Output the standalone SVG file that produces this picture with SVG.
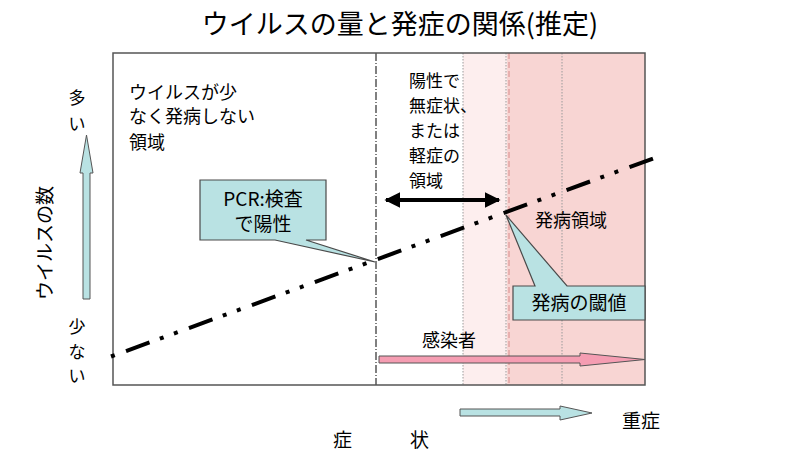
<svg xmlns="http://www.w3.org/2000/svg" width="800" height="455" viewBox="0 0 800 455">
<defs>
<style>
text{font-family:"Noto Sans CJK JP","Liberation Sans",sans-serif;fill:#000;}
.t{font-size:18px;}
.m{font-size:17px;}
.call{fill:#b9e2e3;stroke:#4a4a4a;stroke-width:1.2;}
.gline{stroke:#9a9a9a;stroke-width:1;stroke-dasharray:1.5 1.5;fill:none;}
</style>
<marker id="ah" viewBox="0 0 10 10" refX="9" refY="5" markerWidth="4" markerHeight="4" orient="auto-start-reverse" markerUnits="strokeWidth">
<path d="M0,0 L10,5 L0,10 z" fill="#000"/>
</marker>
</defs>
<rect width="800" height="455" fill="#fff"/>
<text x="400" y="34" text-anchor="middle" style="font-size:27px">ウイルスの量と発症の関係(推定)</text>

<g id="regions">
<rect x="463" y="53" width="44" height="332" fill="#fdeeee"/>
<rect x="507" y="53" width="138" height="332" fill="#f8d5d3"/>
<line x1="463" y1="53" x2="463" y2="385" class="gline"/>
<line x1="506" y1="53" x2="506" y2="385" class="gline"/>
<line x1="562" y1="53" x2="562" y2="385" class="gline"/>
<line x1="509" y1="53" x2="509" y2="385" stroke="#d88a8a" stroke-width="1" stroke-dasharray="6 3"/>
<line x1="376" y1="53" x2="376" y2="385" stroke="#808080" stroke-width="2" stroke-dasharray="8 2 1 2"/>
<rect x="113" y="53" width="532" height="332" fill="none" stroke="#555" stroke-width="1.5"/>
</g>

<g id="connectors">
<line x1="111" y1="356.5" x2="653" y2="158.5" stroke="#000" stroke-width="4" stroke-dasharray="4 12 25 11 4 11"/>
<line x1="386" y1="200" x2="499" y2="200" stroke="#000" stroke-width="4" marker-start="url(#ah)" marker-end="url(#ah)"/>
</g>

<g id="axis-y">
<path d="M83,299 L83,173 L80,173 L86.5,135 L93,173 L90,173 L90,299 Z" fill="#b9e2e3" stroke="#555" stroke-width="1"/>
<text x="77" y="104" text-anchor="middle" style="font-size:17px">多</text>
<text x="77" y="130" text-anchor="middle" style="font-size:17px">い</text>
<text x="77" y="333" text-anchor="middle" style="font-size:17px">少</text>
<text x="77" y="358" text-anchor="middle" style="font-size:17px">な</text>
<text x="77" y="382" text-anchor="middle" style="font-size:17px">い</text>
<text transform="translate(52,243) rotate(-90)" text-anchor="middle" style="font-size:19px">ウイルスの数</text>
</g>

<g id="low-region">
<text class="t" x="129" y="99">ウイルスが少</text>
<text class="t" x="129" y="123">なく発病しない</text>
<text class="t" x="129" y="149">領域</text>
</g>

<g id="mild-region">
<text class="m" x="409" y="87">陽性で</text>
<text class="m" x="409" y="112">無症状、</text>
<text class="m" x="409" y="137">または</text>
<text class="m" x="409" y="162">軽症の</text>
<text class="m" x="409" y="187">領域</text>
</g>

<g id="pcr">
<path d="M200,180 L326,180 L326,240 L306,240 L375,262 L275,240 L200,240 Z" class="call"/>
<text x="263" y="206" text-anchor="middle" style="font-size:19px">PCR:検査</text>
<text x="263" y="231" text-anchor="middle" style="font-size:19px">で陽性</text>
</g>

<g id="onset">
<text class="t" x="535" y="227">発病領域</text>
</g>

<g id="threshold">
<path d="M513,286 L535,286 L506,215 L567,286 L645,286 L645,320 L513,320 Z" class="call"/>
<text x="579" y="310" text-anchor="middle" style="font-size:19px">発病の閾値</text>
</g>

<g id="infected">
<text class="t" x="422" y="347">感染者</text>
<path d="M379,356 L580,356 L580,353 L645,359.5 L580,366 L580,363 L379,363 Z" fill="#f59db2" stroke="#555" stroke-width="1"/>
</g>

<g id="axis-x">
<path d="M460,409 L560,409 L560,406 L592,413 L560,420 L560,416 L460,416 Z" fill="#b9e2e3" stroke="#555" stroke-width="1"/>
<text x="622" y="428" style="font-size:19px">重症</text>
<text x="333" y="447" style="font-size:19px">症</text>
<text x="410" y="447" style="font-size:19px">状</text>
</g>
</svg>
